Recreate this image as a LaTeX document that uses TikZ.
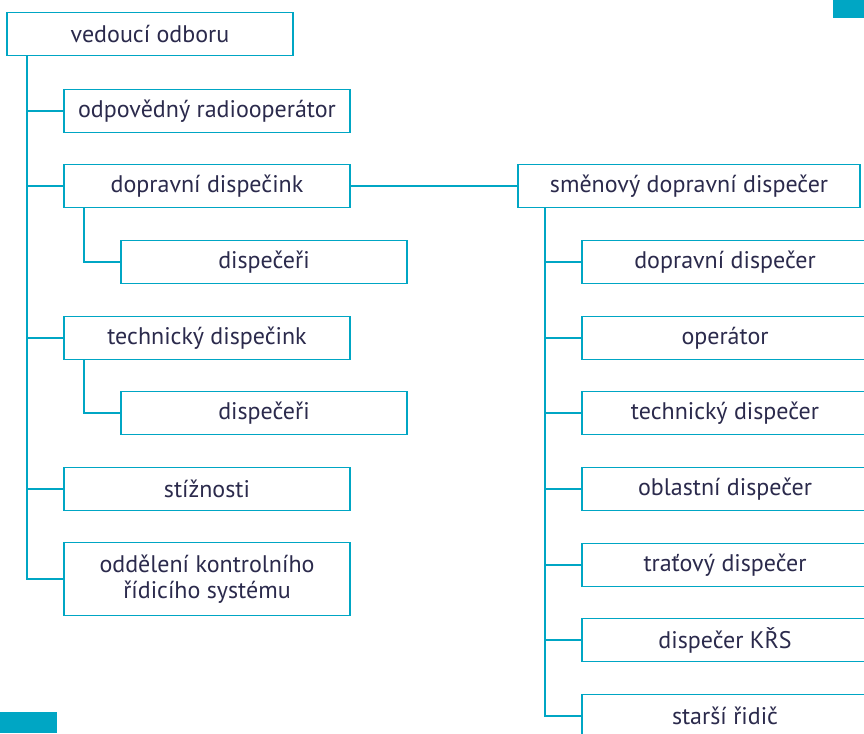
\documentclass[tikz,border=0pt]{standalone}
\usepackage{fontspec}
\setmainfont{PT Sans}
\definecolor{linka}{HTML}{00A6C4}
\definecolor{pismo}{HTML}{2B2A4C}
\tikzset{
  box/.style={draw=linka,line width=1.8pt,fill=white,text=pismo,
    minimum width=286pt,minimum height=43pt,inner sep=0pt,
    align=center,font=\fontsize{24}{26}\selectfont},
  spoj/.style={draw=linka,line width=1.8pt},
}
\begin{document}
\begin{tikzpicture}[x=1pt,y=-1pt]
\useasboundingbox (0,0) rectangle (864,733);
\clip (0,0) rectangle (864,733);
% ozdobne obdelniky
\fill[linka] (833,0) rectangle (864,18);
\fill[linka] (0,712) rectangle (57,733);
% vetve
\coordinate (k1) at (27,55);
\coordinate (k2) at (84,208);
\coordinate (k3) at (84,359);
\coordinate (k4) at (545,208);
\draw[spoj] (k1) |- (207,579);
\draw[spoj] (k2) |- (121,262);
\draw[spoj] (k3) |- (121,413);
\draw[spoj] (k4) |- (582,716);
\foreach \y in {111,186,338,489} \draw[spoj] (27,\y) -- (64,\y);
\foreach \y in {262,338,413,489,565,640} \draw[spoj] (545,\y) -- (582,\y);
% levy sloupec
\node[box] (vedouci) at (150,34) {vedoucí odboru};
\node[box] (radio) at (207,111) {odpovědný radiooperátor};
\node[box] (dopdisp) at (207,186) {dopravní dispečink};
\node[box] (disp1) at (264,262) {dispečeři};
\node[box] (techdisp) at (207,338) {technický dispečink};
\node[box] (disp2) at (264,413) {dispečeři};
\node[box] (stiz) at (207,489) {stížnosti};
\node[box,minimum height=73pt] (oddel) at (207,579) {oddělení kontrolního\\řídicího systému};
% pravy sloupec
\node[box,minimum width=342pt] (smena) at (689,186) {směnový dopravní dispečer};
\draw[spoj] (dopdisp.east) -- (smena.west);
\node[box] (r1) at (725,262) {dopravní dispečer};
\node[box] (r2) at (725,338) {operátor};
\node[box] (r3) at (725,413) {technický dispečer};
\node[box] (r4) at (725,489) {oblastní dispečer};
\node[box] (r5) at (725,565) {traťový dispečer};
\node[box] (r6) at (725,640) {dispečer KŘS};
\node[box] (r7) at (725,716) {starší řidič};
\end{tikzpicture}
\end{document}
